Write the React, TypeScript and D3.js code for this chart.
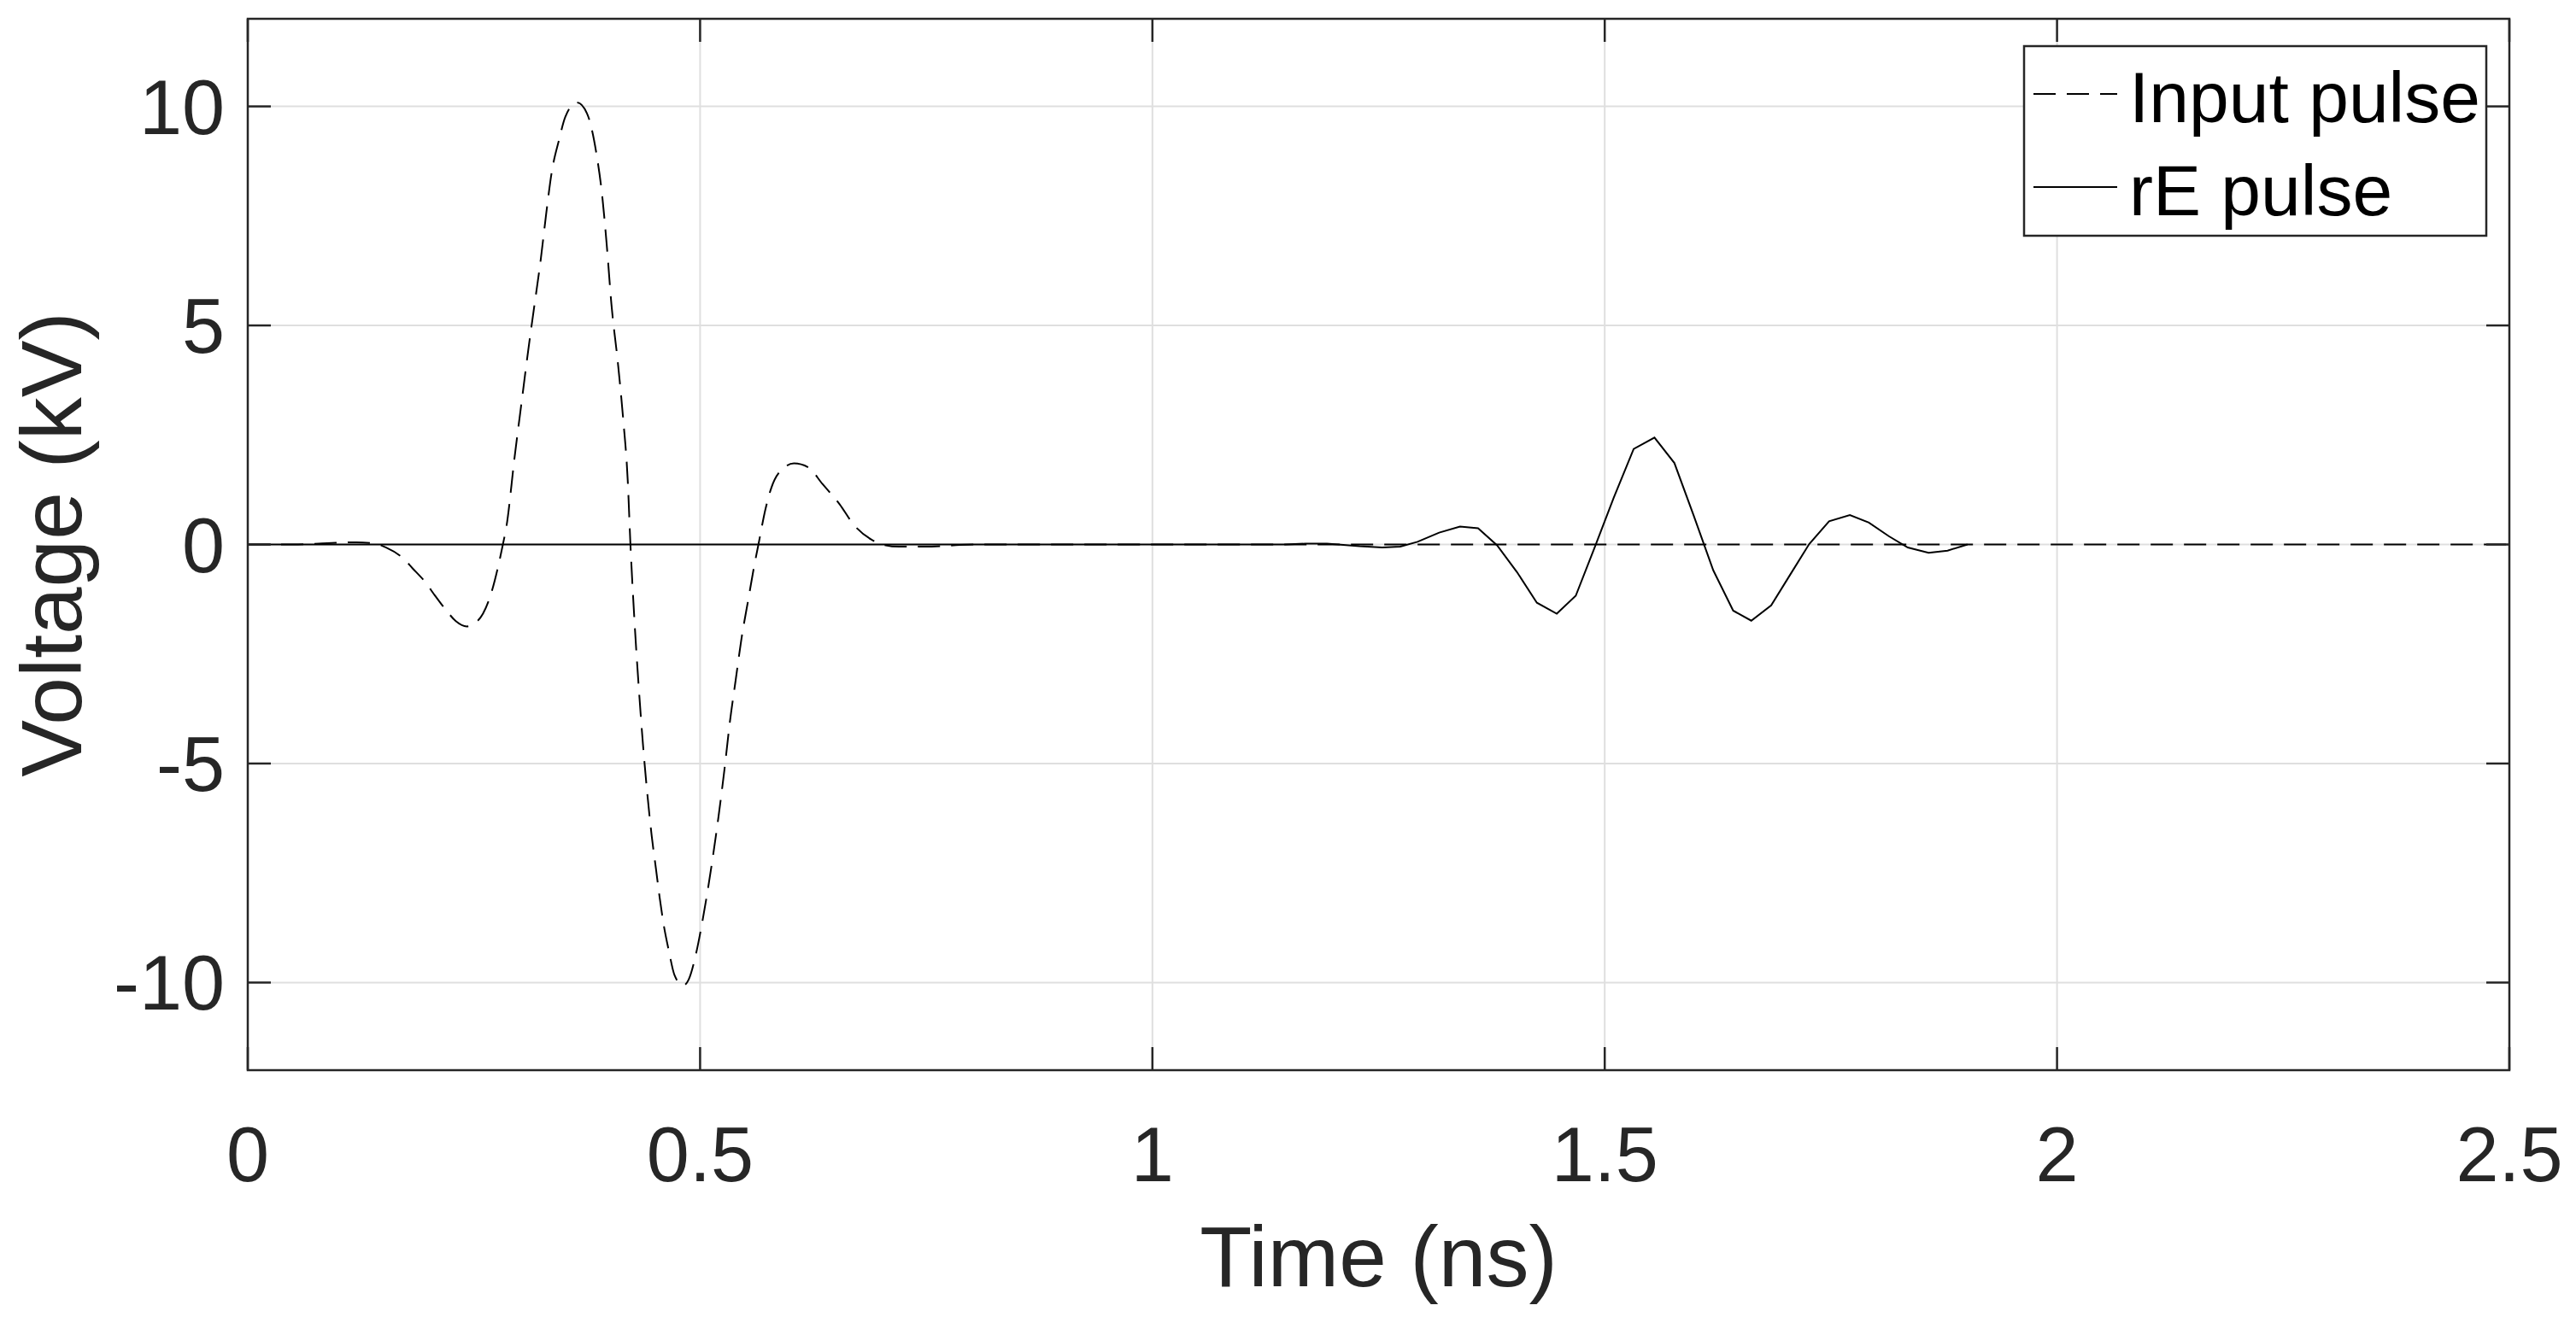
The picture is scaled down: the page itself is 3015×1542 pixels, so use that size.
import React from "react";
import * as d3 from "d3";

// time (ns) / voltage (kV)
const inputTimes = [
  0, 0.05, 0.088, 0.12, 0.14, 0.153, 0.172, 0.182, 0.197, 0.206, 0.22, 0.23,
  0.242, 0.25, 0.26, 0.269, 0.278, 0.282, 0.286, 0.295, 0.303, 0.31, 0.317,
  0.324, 0.33, 0.336, 0.344, 0.351, 0.364, 0.375, 0.385, 0.392, 0.397, 0.402,
  0.409, 0.415, 0.42, 0.423, 0.4276, 0.4323, 0.437, 0.4418, 0.4465, 0.4512,
  0.4553, 0.46, 0.4654, 0.4717, 0.4811, 0.4874, 0.4953, 0.5016, 0.5079,
  0.5142, 0.5205, 0.5268, 0.533, 0.5393, 0.5456, 0.5535, 0.5598, 0.5645,
  0.5724, 0.5787, 0.5881, 0.6038, 0.6196, 0.6353, 0.6542, 0.6699, 0.6888,
  0.7014, 0.7203, 0.7486, 0.78, 0.802, 2.5,
];
const inputVolts = [
  0, 0, 0.03, 0.05, 0.02, -0.07, -0.32, -0.54, -0.88, -1.14, -1.52, -1.75,
  -1.87, -1.81, -1.58, -1.12, -0.39, 0, 0.42, 2.0, 3.3, 4.43, 5.48, 6.53,
  7.57, 8.5, 9.23, 9.76, 10.09, 9.84, 8.97, 7.92, 6.79, 5.48, 4.17, 2.86,
  1.47, 0, -1.79, -3.29, -4.6, -5.72, -6.65, -7.4, -8.06, -8.71, -9.27,
  -9.83, -10.07, -9.93, -9.36, -8.71, -7.96, -7.12, -6.19, -5.16, -4.04,
  -3.1, -2.17, -1.23, -0.49, 0, 0.82, 1.29, 1.66, 1.85, 1.76, 1.38, 0.92,
  0.45, 0.12, 0, -0.05, -0.05, -0.02, 0, 0,
];

const reTimes = [
  0, 1.147, 1.169, 1.193, 1.229, 1.254, 1.274, 1.293, 1.317, 1.34, 1.36,
  1.381, 1.403, 1.425, 1.447, 1.468, 1.489, 1.51, 1.532, 1.555, 1.577, 1.598,
  1.62, 1.642, 1.662, 1.684, 1.705, 1.726, 1.748, 1.771, 1.792, 1.814, 1.835,
  1.858, 1.879, 1.901,
];
const reVolts = [
  0, 0, 0.02, 0.02, -0.04, -0.07, -0.05, 0.06, 0.27, 0.41, 0.37, -0.02,
  -0.63, -1.33, -1.58, -1.17, -0.06, 1.07, 2.18, 2.44, 1.86, 0.68, -0.59,
  -1.51, -1.74, -1.39, -0.69, 0.01, 0.53, 0.67, 0.5, 0.19, -0.07, -0.19,
  -0.14, 0,
];

const xTicks = [0, 0.5, 1, 1.5, 2, 2.5];
const yTicks = [-10, -5, 0, 5, 10];
const seriesNames = ["Input pulse", "rE pulse"];
const xLabel = "Time (ns)";
const yLabel = "Voltage (kV)";

const W = 3015;
const H = 1542;
const left = 290;
const right = 2937;
const top = 22;
const bottom = 1253;
const ink = "#262626";
const gridColor = "#dfdfdf";
const tickLen = 27;
const font = "'Liberation Sans', Arial, Helvetica, sans-serif";

const App: React.FC = () => {
  const x = d3.scaleLinear().domain([0, 2.5]).range([left, right]);
  const y = d3.scaleLinear().domain([-12, 12]).range([bottom, top]);

  const smooth = d3
    .line<[number, number]>()
    .x((d) => x(d[0]))
    .y((d) => y(d[1]))
    .curve(d3.curveMonotoneX);
  const straight = d3
    .line<[number, number]>()
    .x((d) => x(d[0]))
    .y((d) => y(d[1]));

  const inputPts = inputTimes.map((t, i) => [t, inputVolts[i]] as [number, number]);
  const rePts = reTimes.map((t, i) => [t, reVolts[i]] as [number, number]);

  const legX = 2369;
  const legY = 54;
  const legW = 541;
  const legH = 222;
  const rowY = [110, 219];

  return (
    <svg
      width={W}
      height={H}
      style={{ position: "absolute", left: 0, top: 0, background: "#fff" }}
      fontFamily={font}
    >
      <rect x={0} y={0} width={W} height={H} fill="#fff" />
      {/* grid */}
      <g stroke={gridColor} strokeWidth={2}>
        {xTicks.slice(1, -1).map((t) => (
          <line key={"gx" + t} x1={x(t)} x2={x(t)} y1={top} y2={bottom} />
        ))}
        {yTicks.map((t) => (
          <line key={"gy" + t} x1={left} x2={right} y1={y(t)} y2={y(t)} />
        ))}
      </g>

      {/* data */}
      <path
        d={smooth(inputPts) || ""}
        fill="none"
        stroke="#000"
        strokeWidth={2}
        strokeDasharray="26 13"
      />
      <path d={straight(rePts) || ""} fill="none" stroke="#000" strokeWidth={2} />

      {/* box + ticks */}
      <g stroke={ink} strokeWidth={2.5}>
        <rect x={left} y={top} width={right - left} height={bottom - top} fill="none" />
        {xTicks.map((t) => (
          <g key={"tx" + t}>
            <line x1={x(t)} x2={x(t)} y1={bottom} y2={bottom - tickLen} />
            <line x1={x(t)} x2={x(t)} y1={top} y2={top + tickLen} />
          </g>
        ))}
        {yTicks.map((t) => (
          <g key={"ty" + t}>
            <line x1={left} x2={left + tickLen} y1={y(t)} y2={y(t)} />
            <line x1={right} x2={right - tickLen} y1={y(t)} y2={y(t)} />
          </g>
        ))}
      </g>

      {/* tick labels */}
      <g fill={ink} fontSize={90}>
        {xTicks.map((t) => (
          <text key={"lx" + t} x={x(t)} y={1383} textAnchor="middle">
            {String(t)}
          </text>
        ))}
        {yTicks.map((t) => (
          <text key={"ly" + t} x={left - 27} y={y(t) + 32} textAnchor="end">
            {String(t)}
          </text>
        ))}
      </g>

      {/* axis labels */}
      <text
        x={(left + right) / 2}
        y={1506}
        textAnchor="middle"
        fontSize={100}
        fill={ink}
      >
        {xLabel}
      </text>
      <text
        transform={`translate(95, ${(top + bottom) / 2}) rotate(-90)`}
        textAnchor="middle"
        fontSize={100}
        fill={ink}
      >
        {yLabel}
      </text>

      {/* legend */}
      <g>
        <rect
          x={legX}
          y={legY}
          width={legW}
          height={legH}
          fill="#fff"
          stroke={ink}
          strokeWidth={2.5}
        />
        <line
          x1={2380}
          x2={2478}
          y1={rowY[0]}
          y2={rowY[0]}
          stroke="#000"
          strokeWidth={2}
          strokeDasharray="26 13"
        />
        <line x1={2380} x2={2478} y1={rowY[1]} y2={rowY[1]} stroke="#000" strokeWidth={2} />
        {seriesNames.map((n, i) => (
          <text key={n} x={2492} y={rowY[i] + 33} fontSize={84} fill="#000">
            {n}
          </text>
        ))}
      </g>
    </svg>
  );
};

export default App;
